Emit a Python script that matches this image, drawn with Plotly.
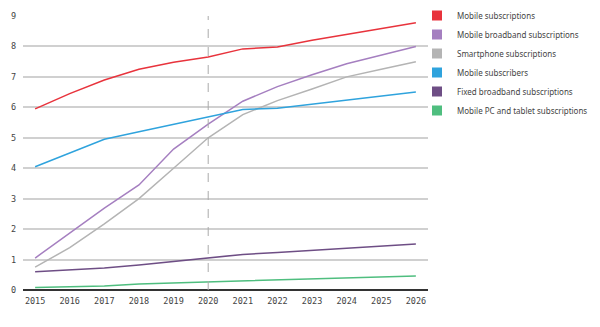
import plotly.graph_objects as go

years = list(range(2015, 2027))
mobile_subs = [5.95, 6.45, 6.9, 7.25, 7.48, 7.65, 7.92, 7.98, 8.2, 8.4, 8.6, 8.78]
mobile_bb = [1.05, 1.87, 2.69, 3.45, 4.63, 5.45, 6.2, 6.68, 7.07, 7.43, 7.72, 8.0]
smartphone = [0.75, 1.39, 2.17, 3.0, 4.0, 5.0, 5.76, 6.22, 6.6, 7.0, 7.25, 7.5]
subscribers = [4.05, 4.5, 4.95, 5.2, 5.45, 5.7, 5.93, 5.97, 6.1, 6.22, 6.35, 6.5]
fixed_bb = [0.6, 0.67, 0.72, 0.82, 0.93, 1.05, 1.17, 1.23, 1.3, 1.36, 1.44, 1.51]
pc_tablet = [0.08, 0.1, 0.13, 0.2, 0.23, 0.27, 0.3, 0.33, 0.36, 0.39, 0.43, 0.46]

names = ["Mobile subscriptions", "Mobile broadband subscriptions", "Smartphone subscriptions",
         "Mobile subscribers", "Fixed broadband subscriptions", "Mobile PC and tablet subscriptions"]
colors = ["#e8333c", "#a57fc0", "#b4b4b4", "#2fa3dd", "#6e4e85", "#4fbe7f"]
series = [mobile_subs, mobile_bb, smartphone, subscribers, fixed_bb, pc_tablet]

fig = go.Figure()
for name, col, vals in zip(names, colors, series):
    fig.add_trace(go.Scatter(x=years, y=vals, mode="lines", name=name,
                             line=dict(color=col, width=1.5), showlegend=False,
                             legendgroup=name))
for name, col in zip(names, colors):
    fig.add_trace(go.Scatter(x=[None], y=[None], mode="markers", name=name,
                             marker=dict(symbol="square", size=10, color=col),
                             legendgroup=name))

fig.add_vline(x=2020, line=dict(color="#aaaaaa", width=1, dash="dash"))

fig.update_layout(
    width=600, height=327,
    margin=dict(l=23, r=172, t=16, b=37, autoexpand=False),
    plot_bgcolor="white", paper_bgcolor="white",
    xaxis=dict(range=[2014.65, 2026.35], tickmode="array", tickvals=years,
               ticktext=[str(y) for y in years], showgrid=False, zeroline=False,
               showline=False, ticks="", ticklabelstandoff=4,
               tickfont=dict(family="DejaVu Sans Mono", size=8.5, color="#444")),
    yaxis=dict(range=[0, 9], dtick=1, showgrid=True, gridcolor="#d0d0d0", gridwidth=1.5,
               zeroline=True, zerolinecolor="#333", zerolinewidth=1.5, ticks="",
               ticklabelstandoff=6,
               tickfont=dict(family="DejaVu Sans Mono", size=8.5, color="#444")),
    legend=dict(xref="container", x=417 / 600, xanchor="left",
                yref="container", y=1 - 1 / 327, yanchor="top",
                font=dict(family="Noto Sans", size=8, color="#444"),
                tracegroupgap=0, itemwidth=30, bgcolor="rgba(0,0,0,0)"),
    showlegend=True,
)
fig.write_html("out.html")
